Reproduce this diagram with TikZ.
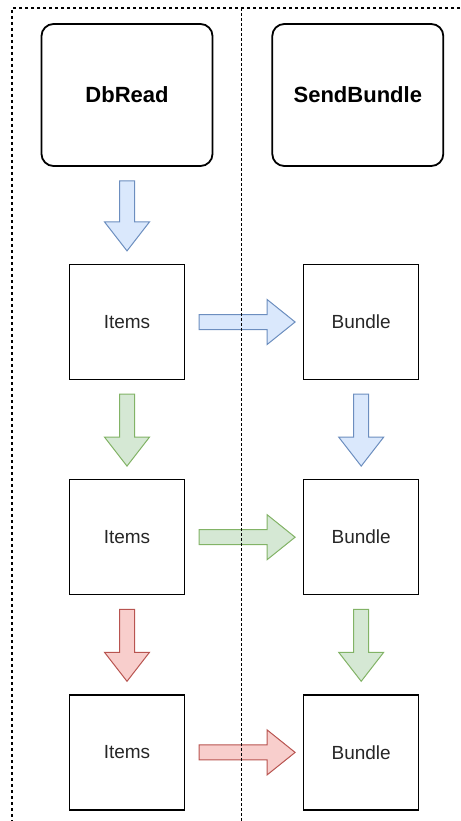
\documentclass[tikz,border=0pt]{standalone}
\usepackage{fontspec}
\setmainfont{Liberation Sans}
\usepackage{tikz}
\usetikzlibrary{positioning, calc}

\definecolor{blueline}{HTML}{6C8EBF}
\definecolor{bluefill}{HTML}{DAE8FC}
\definecolor{greenline}{HTML}{82B366}
\definecolor{greenfill}{HTML}{D5E8D4}
\definecolor{redline}{HTML}{B85450}
\definecolor{redfill}{HTML}{F8CECC}

% block arrows between two anchors (shaft 15pt, head 45pt x 29pt)
\tikzset{
    down flow/.style={to path={let \p1=(\tikztostart), \p2=(\tikztotarget) in
        (\x1-7.5pt,\y1-14pt) -- (\x1+7.5pt,\y1-14pt) -- (\x1+7.5pt,\y2+42pt)
        -- (\x1+22.5pt,\y2+42pt) -- (\x1,\y2+13pt) -- (\x1-22.5pt,\y2+42pt)
        -- (\x1-7.5pt,\y2+42pt) -- cycle}},
    right flow/.style={to path={let \p1=(\tikztostart), \p2=(\tikztotarget) in
        (\x1+14pt,\y1+7.5pt) -- (\x2-36pt,\y1+7.5pt) -- (\x2-36pt,\y1+22.5pt)
        -- (\x2-8pt,\y1) -- (\x2-36pt,\y1-22.5pt) -- (\x2-36pt,\y1-7.5pt)
        -- (\x1+14pt,\y1-7.5pt) -- cycle}},
    blue flow/.style={draw=blueline, fill=bluefill, line width=1pt},
    green flow/.style={draw=greenline, fill=greenfill, line width=1pt},
    red flow/.style={draw=redline, fill=redfill, line width=1pt}
}

\begin{document}
\begin{tikzpicture}[x=1pt, y=-1pt,
    stage/.style={rectangle, draw, line width=1.8pt, rounded corners=12pt, minimum width=171pt, minimum height=142pt, font=\fontsize{22}{26}\selectfont\bfseries},
    store/.style={rectangle, draw, line width=1.2pt, minimum width=115pt, minimum height=115pt, text=black!85, font=\fontsize{19}{23}\selectfont},
    frame/.style={line width=1.3pt, dash pattern=on 3pt off 3pt},
    divider/.style={line width=0.8pt, dash pattern=on 3pt off 2pt}
]
    \useasboundingbox (0,0) rectangle (460,821);

    % Stages
    \node[stage] (dbread) at (127,95) {DbRead};
    \node[stage, right=58pt of dbread] (send) {SendBundle};

    % Data per batch
    \node[store, below=97pt of dbread] (items1) {Items};
    \node[store, below=99pt of items1] (items2) {Items};
    \node[store, below=99pt of items2] (items3) {Items};
    \node[store, right=118pt of items1] (bundle1) {Bundle};
    \node[store, right=118pt of items2] (bundle2) {Bundle};
    \node[store, right=118pt of items3] (bundle3) {Bundle};

    % Flow
    \draw[blue flow] (dbread.south) to[down flow] (items1.north);
    \draw[green flow] (items1.south) to[down flow] (items2.north);
    \draw[red flow] (items2.south) to[down flow] (items3.north);
    \draw[blue flow] (bundle1.south) to[down flow] (bundle2.north);
    \draw[green flow] (bundle2.south) to[down flow] (bundle3.north);
    \draw[blue flow] (items1.east) to[right flow] (bundle1.west);
    \draw[green flow] (items2.east) to[right flow] (bundle2.west);
    \draw[red flow] (items3.east) to[right flow] (bundle3.west);

    % Lanes
    \draw[frame] (460,8) -- (12,8) -- (12,821);
    \draw[divider] (241,8) -- (241,821);
\end{tikzpicture}
\end{document}
